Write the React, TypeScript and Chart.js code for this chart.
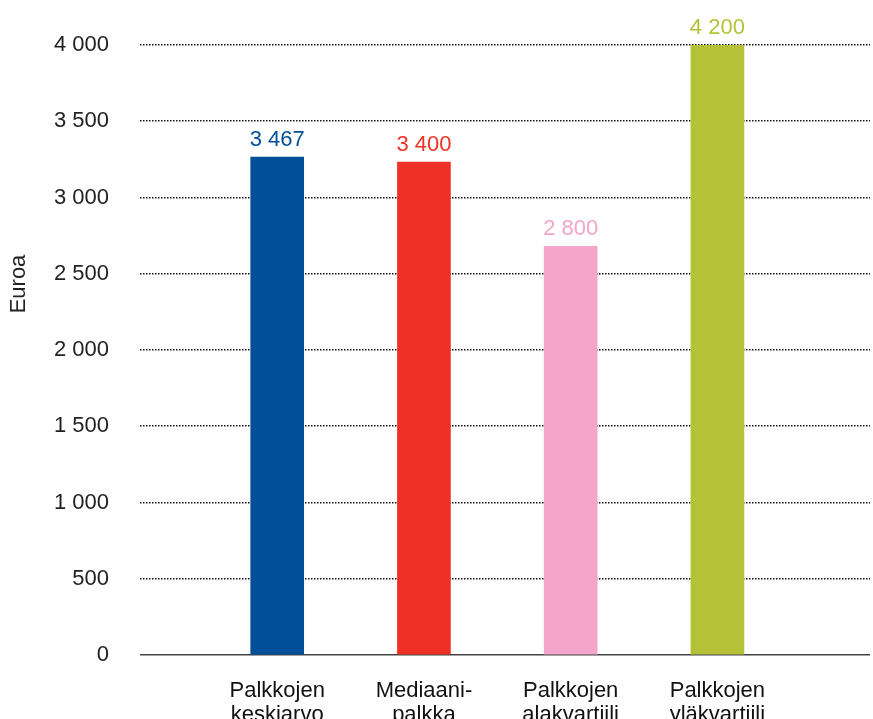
import React, { useEffect, useRef } from "react";
import { Chart, registerables } from "chart.js";

Chart.register(...registerables);

const categories: string[][] = [
  ["Palkkojen", "keskiarvo"],
  ["Mediaani-", "palkka"],
  ["Palkkojen", "alakvartiili"],
  ["Palkkojen", "yläkvartiili"],
];
const barValues: number[] = [3265, 3232, 2679, 4000];
const valueLabels: string[] = ["3 467", "3 400", "2 800", "4 200"];
const barColors: string[] = ["#004f99", "#ee3124", "#f4a5c9", "#b5c238"];
const yTicks: number[] = [0, 500, 1000, 1500, 2000, 2500, 3000, 3500, 4000];
const yTitle = "Euroa";

const FONT = "'Liberation Sans', Arial, sans-serif";

const fmt = (v: number) => {
  const s = String(Math.round(v));
  return s.replace(/\B(?=(\d{3})+(?!\d))/g, " ");
};

const labelsPlugin = {
  id: "valueLabels",
  afterDatasetsDraw(chart: any) {
    const ctx = chart.ctx;
    const meta = chart.getDatasetMeta(0);
    ctx.save();
    ctx.font = `22px ${FONT}`;
    ctx.textAlign = "center";
    ctx.textBaseline = "alphabetic";
    meta.data.forEach((el: any, i: number) => {
      ctx.fillStyle = barColors[i];
      ctx.fillText(valueLabels[i], el.x, el.y - 11);
    });
    // y axis title
    const area = chart.chartArea;
    ctx.translate(19, area.top + (area.bottom - area.top) / 2 - 66);
    ctx.rotate(-Math.PI / 2);
    ctx.fillStyle = "#222";
    ctx.textBaseline = "middle";
    ctx.fillText(yTitle, 0, 0);
    ctx.restore();
  },
};

export default function App() {
  const ref = useRef<HTMLCanvasElement | null>(null);
  useEffect(() => {
    if (!ref.current) return;
    const chart = new Chart(ref.current, {
      type: "bar",
      data: {
        datasets: [
          {
            data: barValues.map((v, i) => ({ x: i, y: v })),
            backgroundColor: barColors,
            borderWidth: 0,
            barThickness: 53,
          },
        ],
      },
      options: {
        animation: false,
        responsive: false,
        maintainAspectRatio: false,
        layout: { padding: { left: 0, right: 3, top: 45, bottom: 0 } },
        plugins: { legend: { display: false }, tooltip: { enabled: false } },
        scales: {
          x: {
            type: "linear",
            offset: false,
            min: -0.935,
            max: 4.04,
            grid: { display: false, offset: false },
            border: { display: false },
            afterFit: (s: any) => {
              s.height = 85;
            },
            afterBuildTicks: (s: any) => {
              s.ticks = categories.map((_, i) => ({ value: i }));
            },
            ticks: {
              autoSkip: false,
              maxRotation: 0,
              minRotation: 0,
              padding: 16,
              color: "#111",
              font: { family: FONT, size: 22, lineHeight: 1.08 },
              callback: (v: any) => categories[v] ?? "",
            },
          },
          y: {
            min: 0,
            max: 4000,
            afterFit: (s: any) => {
              s.width = 140;
            },
            afterBuildTicks: (s: any) => {
              s.ticks = yTicks.map((v) => ({ value: v }));
            },
            grid: {
              drawTicks: false,
              color: (c: any) => (c.tick && c.tick.value === 0 ? "#444" : "#111"),
              lineWidth: (c: any) => (c.tick && c.tick.value === 0 ? 1.6 : 1.6),
            },
            border: {
              display: false,
              dash: (c: any) => (c.tick && c.tick.value === 0 ? [] : [1.5, 1.5]),
            },
            ticks: {
              padding: 31,
              color: "#222",
              font: { family: FONT, size: 22 },
              callback: (v: any) => fmt(Number(v)),
            },
          },
        },
      },
      plugins: [labelsPlugin],
    });
    return () => chart.destroy();
  }, []);
  return (
    <div style={{ position: "fixed", left: 0, top: 0, width: 873, height: 740 }}>
      <canvas ref={ref} width={873} height={740} style={{ display: "block" }} />
    </div>
  );
}
